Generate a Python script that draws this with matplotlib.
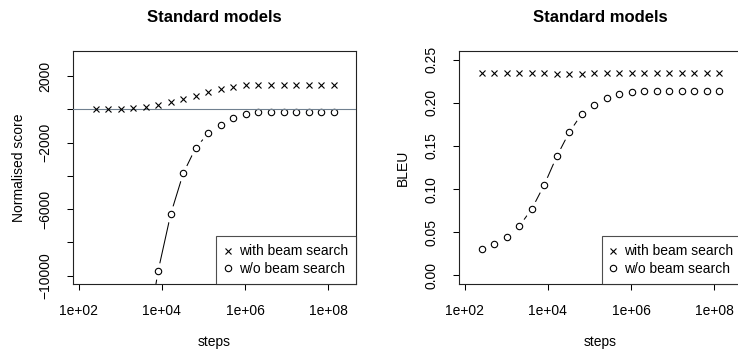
import matplotlib
matplotlib.use("Agg")
import matplotlib.pyplot as plt

plt.rcParams['font.family'] = ['Liberation Sans', 'DejaVu Sans']

# ---- data ----
steps = [256, 512, 1024, 2048, 4096, 8192, 16384, 32768, 65536, 131072,
         262144, 524288, 1048576, 2097152, 4194304, 8388608, 16777216,
         33554432, 67108864, 134217728]

norm_beam = [0, 30, 30, 70, 130, 260, 410, 600, 790, 1010,
             1200, 1350, 1430, 1450, 1450, 1450, 1450, 1450, 1450, 1450]
norm_nobeam = [-38000, -31000, -25000, -19500, -14200, -9700, -6300, -3850, -2310, -1450,
               -950, -550, -280, -170, -150, -150, -150, -150, -150, -150]

bleu_beam = [0.235, 0.235, 0.235, 0.235, 0.235, 0.235, 0.233, 0.233, 0.233, 0.234,
             0.235, 0.235, 0.235, 0.235, 0.235, 0.235, 0.235, 0.235, 0.235, 0.235]
bleu_nobeam = [0.031, 0.036, 0.045, 0.057, 0.077, 0.105, 0.138, 0.166, 0.187, 0.198,
               0.206, 0.210, 0.213, 0.214, 0.214, 0.214, 0.214, 0.214, 0.214, 0.214]

xticks = [1e2, 1e4, 1e6, 1e8]
xtick_labels = ["1e+02", "1e+04", "1e+06", "1e+08"]
left_yticks = [-10000, -8000, -6000, -4000, -2000, 0, 2000]
left_ylabels = ["\u221210000", "", "\u22126000", "", "\u22122000", "", "2000"]
right_yticks = [0.00, 0.05, 0.10, 0.15, 0.20, 0.25]
right_ylabels = ["0.00", "0.05", "0.10", "0.15", "0.20", "0.25"]
title = "Standard models"
labels = ["with beam search", "w/o beam search"]

W, H = 738, 352
fig = plt.figure(figsize=(W / 100, H / 100), dpi=100)

def frac(x0, x1, ytop, ybot):
    return [x0 / W, 1 - ybot / H, (x1 - x0) / W, (ybot - ytop) / H]

axL = fig.add_axes(frac(72.7, 356, 50.7, 284.3))
axR = fig.add_axes(frac(459, 741.7, 50.7, 284.3))

def style(ax, yt, yl, ylim):
    ax.set_xscale('log')
    ax.set_xlim(10 ** 1.86, 10 ** 8.665)
    ax.set_ylim(*ylim)
    ax.set_xticks(xticks)
    ax.set_xticklabels(xtick_labels)
    ax.minorticks_off()
    ax.set_yticks(yt)
    ax.set_yticklabels(yl, rotation=90, va='center')
    ax.tick_params(direction='out', length=4.5, width=0.75, labelsize=10,
                   color='black', labelcolor='black')
    ax.tick_params(axis='x', pad=10)
    ax.tick_params(axis='y', pad=10)
    for s in ax.spines.values():
        s.set_linewidth(0.8)
        s.set_color('#222222')

def series(ax, x, ybeam, ynob):
    ax.plot(x, ynob, '-', color='black', lw=0.75, zorder=1.2)
    ax.plot(x, ynob, 'o', ms=12.0, mfc='white', mec='none', zorder=1.5)
    ax.plot(x, ynob, 'o', ms=4.6, mfc='none', mec='black', mew=0.8, zorder=3,
            label=labels[1])
    ax.plot(x, ybeam, 'x', ms=4.8, color='black', mew=0.8, zorder=5,
            label=labels[0])

style(axL, left_yticks, left_ylabels, (-10520, 3520))
series(axL, steps, norm_beam, norm_nobeam)
axL.axhline(0, color='#708090', lw=0.8, zorder=4)

style(axR, right_yticks, right_ylabels, (-0.0104, 0.2604))
series(axR, steps, bleu_beam, bleu_nobeam)

for ax in (axL, axR):
    h, l = ax.get_legend_handles_labels()
    order = [1, 0]
    leg = ax.legend([h[i] for i in order], [l[i] for i in order],
                    loc='lower right', borderaxespad=0, fontsize=10,
                    frameon=True, fancybox=False, edgecolor='#222222',
                    borderpad=0.6, labelspacing=0.25, handlelength=0.45,
                    handletextpad=0.55)
    leg.get_frame().set_linewidth(0.8)

# titles and axis labels
for cx, ylab, ylx in ((214.3, "Normalised score", 19.5), (600.3, "BLEU", 402.5)):
    fig.text(cx / W, 1 - 17.5 / H, title, ha='center', va='center',
             fontsize=12, fontweight='bold')
    fig.text(cx / W, 1 - 342 / H, "steps", ha='center', va='center', fontsize=10)
    fig.text(ylx / W, 1 - 167.5 / H, ylab, ha='center', va='center',
             fontsize=10, rotation=90)

fig.savefig("out.png", dpi=100)
